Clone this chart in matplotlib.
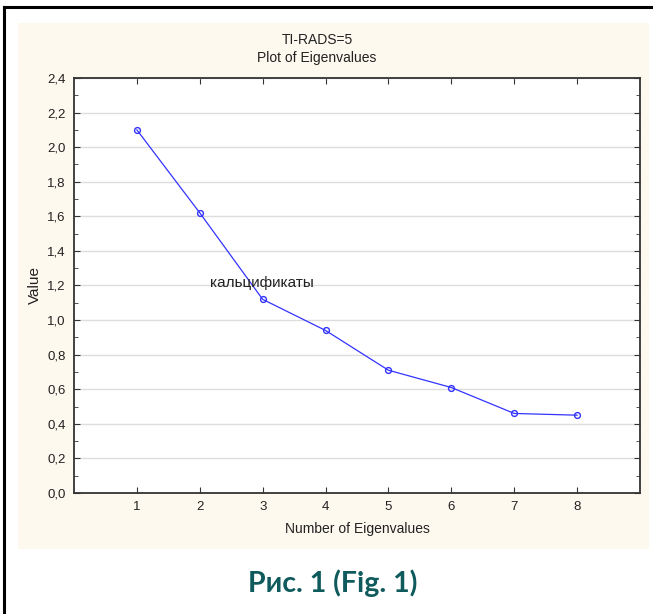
import matplotlib.pyplot as plt
from matplotlib.lines import Line2D
from matplotlib.patches import Rectangle
from matplotlib.ticker import MultipleLocator, FuncFormatter

# eigenvalues
components = [1, 2, 3, 4, 5, 6, 7, 8]
eigenvalues = [2.10, 1.62, 1.12, 0.94, 0.71, 0.61, 0.46, 0.45]

font = ['Liberation Sans Narrow', 'Liberation Sans', 'DejaVu Sans']
W, H = 653, 614

fig = plt.figure(figsize=(W / 100, H / 100), dpi=100)
fig.patch.set_facecolor('white')

# cream panel behind the chart
fig.patches.append(Rectangle((18 / W, 1 - 549 / H), (649 - 18) / W, (549 - 23) / H,
                             transform=fig.transFigure, facecolor='#fef9ee',
                             edgecolor='none', zorder=-5))
# black frame lines at top and left
fig.lines.append(Line2D([4 / W, 1], [1 - 6.5 / H, 1 - 6.5 / H], transform=fig.transFigure,
                        color='black', lw=2.2))
fig.lines.append(Line2D([4 / W, 4 / W], [0, 1 - 6.5 / H], transform=fig.transFigure,
                        color='black', lw=2.2))

ax = fig.add_axes([74 / W, 1 - 493 / H, (640 - 74) / W, (493 - 78) / H])
ax.set_zorder(1)
ax.set_facecolor('white')
ax.plot(components, eigenvalues, color='#3333ff', lw=0.9, marker='o', ms=4.2,
        mfc='none', mec='#3333ff', mew=1.0)

ax.set_xlim(0, 9)
ax.set_ylim(0, 2.4)
ax.set_xticks(components)
ax.yaxis.set_major_locator(MultipleLocator(0.2))
ax.yaxis.set_minor_locator(MultipleLocator(0.1))
ax.yaxis.set_major_formatter(FuncFormatter(lambda v, p: f'{v:.1f}'.replace('.', ',')))
ax.grid(axis='y', color='#dddddd', lw=1.0)
ax.set_axisbelow(True)
ax.tick_params(which='both', direction='in', top=True, right=True, color='#333333',
               labelsize=9.5, pad=6)
ax.tick_params(which='major', length=4)
ax.tick_params(which='minor', length=3)
for lab in ax.get_xticklabels() + ax.get_yticklabels():
    lab.set_family(font)
    lab.set_color('#222222')
for s in ax.spines.values():
    s.set_color('#333333')
    s.set_linewidth(1.3)

ax.set_xlabel('Number of Eigenvalues', family=font, fontsize=10, color='#222222', labelpad=6)
ax.set_ylabel('Value', family=font, fontsize=11, color='#222222', labelpad=4)
ax.text(2.98, 1.215, 'кальцификаты', family=font, fontsize=11, color='#222222',
        ha='center', va='center')

fig.text(317 / W, 1 - 49 / H, 'TI-RADS=5\nPlot of Eigenvalues', family=font, fontsize=10,
         color='#222222', ha='center', va='center', linespacing=1.4)

fig.text(333 / W, 1 - 583 / H, 'Рис. 1 (Fig. 1)', family=['Lato', 'DejaVu Sans'],
         fontsize=20.5, fontweight='bold', color='#0e5a5c', ha='center', va='center')

fig.savefig('out.png', dpi=100)
